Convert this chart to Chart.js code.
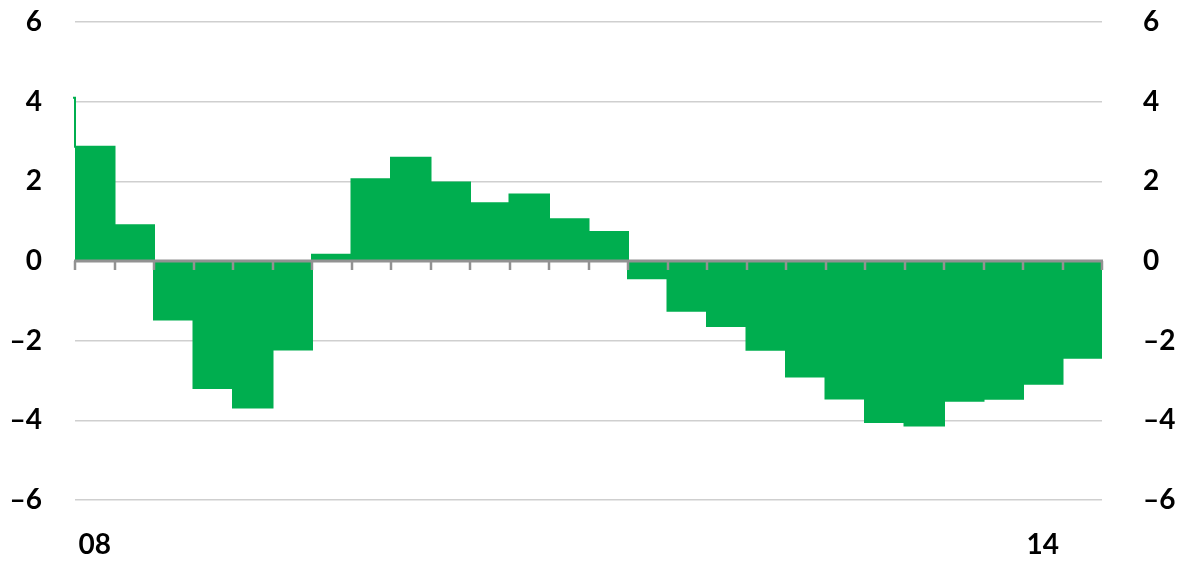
<!DOCTYPE html>
<html>
<head>
<meta charset="utf-8">
<script src="https://cdn.jsdelivr.net/npm/chart.js@4/dist/chart.umd.min.js"></script>
<style>
    html, body { margin: 0; padding: 0; background: #ffffff; }
    #wrap { position: relative; width: 1179px; height: 561px; }
</style>
</head>
<body>
<div id="wrap"><canvas id="chart" width="1179" height="561"></canvas></div>
<script>
// Quarterly values, 2008 Q1 .. 2014 Q2 (per cent)
const startYear = 2008;
const prevValue = 4.1; // 2007 Q4, only its edge shows at the left border
const values = [
    2.87, 0.9, -1.47, -3.19, -3.68, -2.22,
    0.16, 2.05, 2.59, 1.97, 1.45, 1.67,
    1.05, 0.73, -0.43, -1.25, -1.63, -2.23,
    -2.9, -3.45, -4.04, -4.13, -3.51, -3.46,
    -3.08, -2.43
];
const yTicks = [-6, -4, -2, 0, 2, 4, 6];
const xLabels = [
    { value: 2008.125, label: '08' },
    { value: 2014.125, label: '14' }
];

const green = '#00ae4f';
const fontFamily = 'Lato, "Open Sans", sans-serif';

// stepped area: each quarter holds its value until the next quarter begins
const points = [{ x: startYear - 0.25, y: prevValue }];
values.forEach((v, i) => points.push({ x: startYear + i / 4, y: v }));
points.push({ x: startYear + values.length / 4, y: values[values.length - 1] });

const quarterEdges = [];
for (let i = 0; i <= values.length; i++) quarterEdges.push(startYear + i / 4);

function formatTick(v) {
    return v < 0 ? '\u2013' + Math.abs(v) : String(v);
}

// zero line and quarter tick marks drawn on top of the bars
const zeroAxisPlugin = {
    id: 'zeroAxis',
    afterDatasetsDraw(chart) {
        const ctx = chart.ctx;
        const x = chart.scales.x;
        const y0 = chart.scales.y.getPixelForValue(0);
        ctx.save();
        ctx.strokeStyle = '#929292';
        ctx.lineWidth = 2.5;
        quarterEdges.forEach(q => {
            const px = Math.round(x.getPixelForValue(q));
            ctx.beginPath();
            ctx.moveTo(px, y0);
            ctx.lineTo(px, y0 + 9);
            ctx.stroke();
        });
        ctx.lineWidth = 3;
        ctx.beginPath();
        ctx.moveTo(x.left - 1, y0);
        ctx.lineTo(x.right + 1, y0);
        ctx.stroke();
        ctx.restore();
    }
};

const tickFont = { family: fontFamily, size: 28, weight: 'bold' };

function fitY(width) {
    return s => {
        s.width = width;
        s.paddingTop = 0;
        s.paddingBottom = 0;
    };
}

new Chart(document.getElementById('chart'), {
    type: 'line',
    data: {
        datasets: [{
            data: points,
            stepped: 'before',
            fill: 'origin',
            backgroundColor: green,
            borderColor: green,
            borderWidth: 2,
            pointRadius: 0,
            clip: { left: 2, top: 0, right: 0, bottom: 0 }
        }]
    },
    options: {
        responsive: false,
        animation: false,
        events: [],
        layout: { autoPadding: false, padding: { top: 22, bottom: 0, left: 0, right: 0 } },
        plugins: { legend: { display: false }, tooltip: { enabled: false } },
        scales: {
            x: {
                type: 'linear',
                min: startYear,
                max: startYear + values.length / 4,
                grid: { display: false },
                border: { display: false },
                afterBuildTicks: s => { s.ticks = xLabels.map(t => ({ value: t.value })); },
                ticks: {
                    autoSkip: false,
                    maxRotation: 0,
                    font: tickFont,
                    color: '#000000',
                    padding: 20,
                    callback: v => {
                        const t = xLabels.find(l => Math.abs(l.value - v) < 1e-6);
                        return t ? t.label : '';
                    }
                },
                afterFit: s => { s.height = 61; s.paddingLeft = 0; s.paddingRight = 0; }
            },
            y: {
                position: 'left',
                min: -6,
                max: 6,
                afterBuildTicks: s => { s.ticks = yTicks.map(v => ({ value: v })); },
                grid: { color: '#cfcfcf', lineWidth: 1.5, drawTicks: false },
                border: { display: false },
                ticks: { font: tickFont, color: '#000000', padding: 33, callback: formatTick },
                afterFit: fitY(75)
            },
            y2: {
                position: 'right',
                min: -6,
                max: 6,
                afterBuildTicks: s => { s.ticks = yTicks.map(v => ({ value: v })); },
                grid: { display: false },
                border: { display: false },
                ticks: { font: tickFont, color: '#000000', padding: 33, callback: formatTick },
                afterFit: fitY(77)
            }
        }
    },
    plugins: [zeroAxisPlugin]
});
</script>
</body>
</html>
